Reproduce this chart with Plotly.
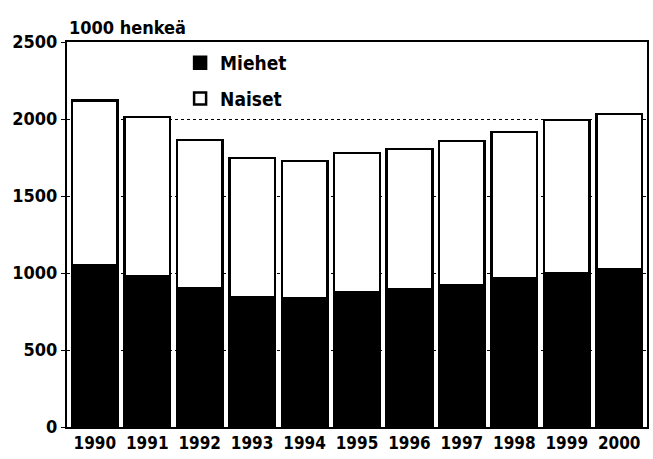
import plotly.graph_objects as go

years = ["1990", "1991", "1992", "1993", "1994", "1995", "1996", "1997", "1998", "1999", "2000"]
miehet = [1052, 980, 903, 844, 838, 877, 896, 922, 968, 1000, 1026]
totals = [2120, 2013, 1864, 1747, 1727, 1779, 1805, 1857, 1916, 1994, 2032]
naiset = [t - m for t, m in zip(totals, miehet)]
y_ticks = [0, 500, 1000, 1500, 2000, 2500]

FONT = "DejaVu Sans Condensed, Liberation Sans Narrow, sans-serif"

fig = go.Figure()
fig.add_trace(go.Bar(x=years, y=miehet, name="Miehet", legendgroup="m", legendrank=1,
                     marker=dict(color="black", line=dict(color="black", width=2.5)), width=0.87))
fig.add_trace(go.Bar(x=years, y=naiset, name="Naiset", legendgroup="n", legendrank=2,
                     marker=dict(color="white", line=dict(color="black", width=2.5)), width=0.87))

fig.update_layout(
    width=653, height=459,
    margin=dict(l=67, r=4, t=42, b=32),
    barmode="stack",
    paper_bgcolor="white", plot_bgcolor="white",
    font=dict(family=FONT, size=17, color="black", weight="bold"),
    showlegend=True,
    legend=dict(x=0.195, y=0.995, xanchor="left", yanchor="top", traceorder="grouped",
                tracegroupgap=8, bgcolor="rgba(0,0,0,0)",
                font=dict(size=19, family=FONT, weight="bold"),
                itemwidth=30),
    xaxis=dict(range=[-0.53, 10.53], showline=True, linecolor="black", linewidth=2,
               mirror=True, ticks="", tickfont=dict(size=17, family=FONT, weight="bold")),
    yaxis=dict(range=[0, 2500], tickvals=y_ticks, showline=True, linecolor="black",
               linewidth=2, mirror=True, ticks="outside", ticklen=4, tickcolor="black",
               showgrid=True, gridcolor="black", gridwidth=1, griddash="dot",
               tickfont=dict(size=18, family=FONT, weight="bold")),
    annotations=[dict(text="1000 henkeä", xref="paper", yref="paper", x=0.0, y=1.0,
                      xanchor="left", yanchor="bottom", yshift=2, showarrow=False,
                      font=dict(size=18, family=FONT, weight="bold"))],
)
fig.write_html("out.html", config={"displayModeBar": False},
               post_script="document.body.style.margin='0';document.body.style.overflow='hidden';")
